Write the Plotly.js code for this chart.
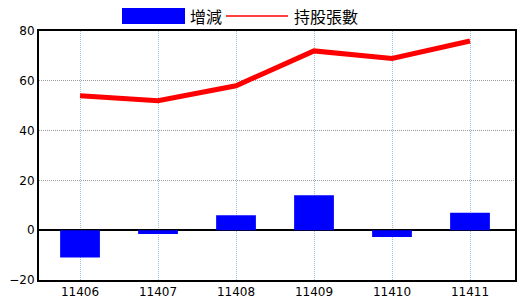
<!DOCTYPE html>
<html><head><meta charset="utf-8">
<script src="https://cdn.plot.ly/plotly-3.0.1.min.js"></script>
<style>html,body{margin:0;padding:0;background:#fff;}#c{width:520px;height:300px;}</style>
</head><body><div id="c"></div>
<script>
var categories = ['11406','11407','11408','11409','11410','11411'];
var changeValues = [-11, -1.5, 6, 14, -2.7, 7];
var holdingValues = [54, 52, 58, 72, 69, 76];
var yTicks = [-20, 0, 20, 40, 60, 80];
var seriesNames = ['增減', '持股張數'];

var font = 'DejaVu Sans, "Noto Sans CJK TC", sans-serif';
var traces = [
  {type:'bar', x:categories, y:changeValues, name:seriesNames[0], marker:{color:'#0000ff'}, width:0.51, showlegend:false, hoverinfo:'skip'},
  {type:'scatter', mode:'lines', x:categories, y:holdingValues, name:seriesNames[1], line:{color:'#ff0000', width:5}, showlegend:false, hoverinfo:'skip'}
];
var layout = {
  width:520, height:300,
  margin:{l:39, r:5, t:31, b:20},
  paper_bgcolor:'#fff', plot_bgcolor:'#fff',
  font:{family:font, size:12, color:'#000'},
  xaxis:{type:'category', range:[-0.526, 5.577], showgrid:true, gridcolor:'#9cc2d8', griddash:'1px,1px', gridwidth:1,
    showline:true, linecolor:'#000', linewidth:2, mirror:true, ticks:'', tickfont:{size:12, color:'#000', family:font}, fixedrange:true},
  yaxis:{range:[-20,80], tickvals:yTicks, showgrid:true, gridcolor:'#9a9a9a', griddash:'1px,1px', gridwidth:1,
    zeroline:true, zerolinecolor:'#000', zerolinewidth:1.5,
    showline:true, linecolor:'#000', linewidth:2, mirror:true, ticks:'', ticklen:0, tickfont:{size:12, color:'#000', family:font}, fixedrange:true},
  shapes:[
    {type:'rect', xref:'paper', yref:'paper', x0:(122-39)/476, x1:(185-39)/476, y0:(300-20-24)/249, y1:(300-20-8)/249, fillcolor:'#0000ff', line:{width:0}},
    {type:'line', xref:'paper', yref:'paper', x0:(226-39)/476, x1:(288-39)/476, y0:(300-20-16)/249, y1:(300-20-16)/249, line:{color:'#ff0000', width:1.5}}
  ],
  annotations:[
    {xref:'paper', yref:'paper', x:(188-39)/476, y:(300-20-16)/249, xanchor:'left', yanchor:'middle', text:seriesNames[0], showarrow:false, font:{size:16, color:'#000', family:'"Noto Sans CJK TC", sans-serif'}},
    {xref:'paper', yref:'paper', x:(292-39)/476, y:(300-20-16)/249, xanchor:'left', yanchor:'middle', text:seriesNames[1], showarrow:false, font:{size:16, color:'#000', family:'"Noto Sans CJK TC", sans-serif'}}
  ],
  showlegend:false
};
Plotly.newPlot('c', traces, layout, {staticPlot:true, displayModeBar:false});
</script></body></html>
